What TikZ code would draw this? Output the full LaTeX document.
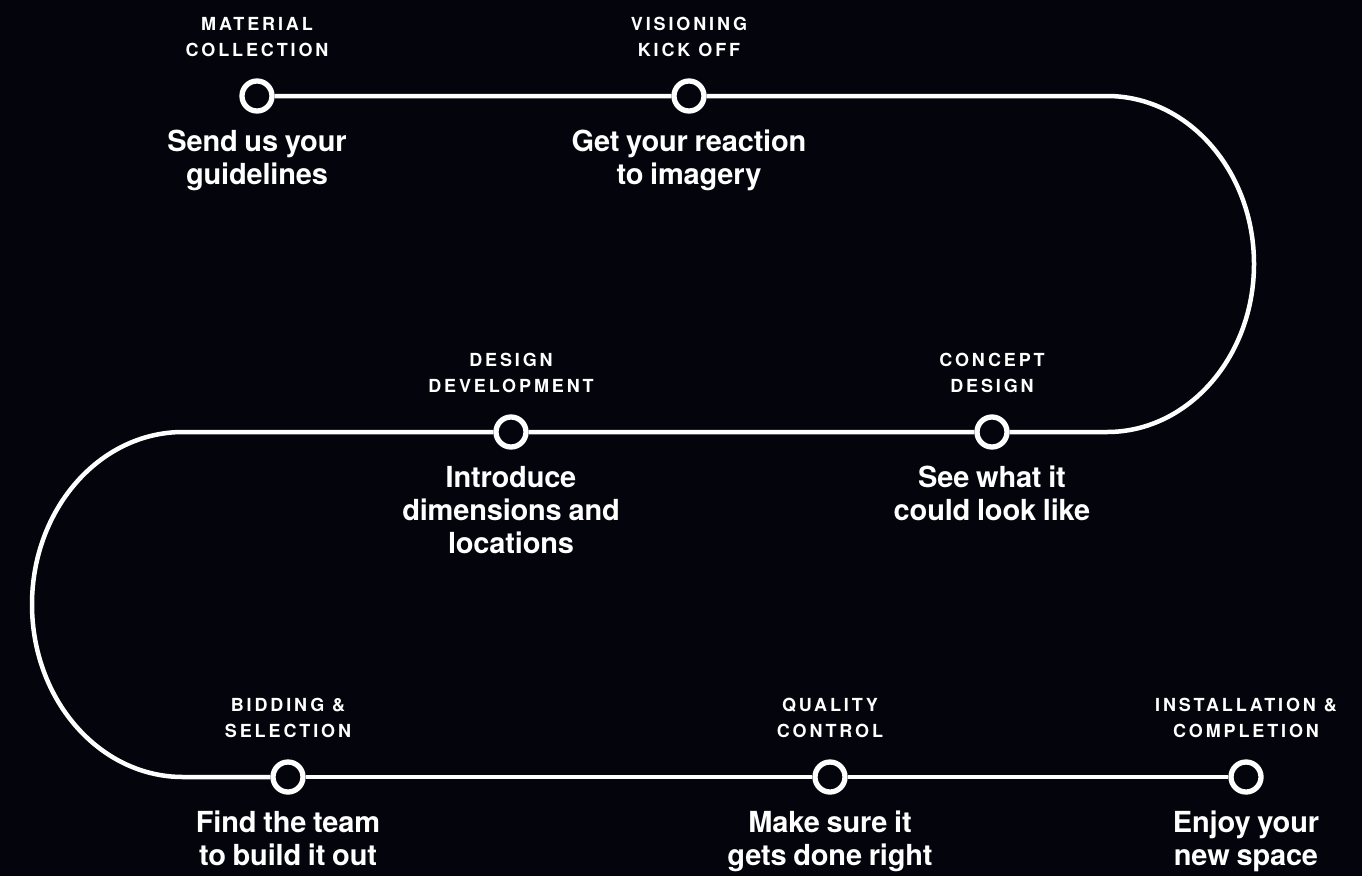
\documentclass[tikz,border=0pt]{standalone}
\usepackage{fontspec}
\setmainfont{TeX Gyre Heros}
\newfontfamily\phasefont[LetterSpace=16]{TeX Gyre Heros}
\newfontfamily\blurbfont[LetterSpace=-0.6, WordSpace=0.85]{TeX Gyre Heros}
\usetikzlibrary{positioning}
\definecolor{bgcol}{RGB}{4,4,12}

\tikzset{
	milestone/.style={circle, draw=white, line width=5.3pt, fill=bgcol, minimum size=30pt, inner sep=0pt},
	phase/.style={text=white, align=center, inner sep=0pt, font=\phasefont\bfseries\fontsize{18}{26}\selectfont},
	blurb/.style={text=white, align=center, inner sep=0pt, font=\blurbfont\bfseries\fontsize{29}{33}\selectfont},
	track/.style={draw=white, line width=4.5pt}
}

\begin{document}
\begin{tikzpicture}[x=1pt, y=-1pt]
		% Tlo
		\fill[bgcol] (0,0) rectangle (1362,876);
		\useasboundingbox (0,0) rectangle (1362,876);

		% Punkty
		\node[milestone] (M) at (257,96) {};
		\node[milestone] (V) at (689,96) {};
		\node[milestone] (C) at (992,432) {};
		\node[milestone] (D) at (511,432) {};
		\node[milestone] (B) at (288,777) {};
		\node[milestone] (Q) at (830,777) {};
		\node[milestone] (I) at (1246,777) {};

		% Zakrety
		\coordinate (R) at (1107,96);
		\coordinate (L) at (183,432);

		% Trasa
		\draw[track] (M) -- (V) -- (R)
		arc[start angle=90, end angle=-90, x radius=147pt, y radius=168pt] -- (C);
		\draw[track] (C) -- (D) -- (L)
		arc[start angle=90, end angle=270, x radius=151pt, y radius=172.5pt] -- (B);
		\draw[track] (B) -- (Q) -- (I);

		% Etapy
		\node[phase, above=39pt of M.center] (Mt) {MATERIAL\\COLLECTION};
		\node[phase, above=39pt of V.center] (Vt) {VISIONING\\KICK OFF};
		\node[phase, above=39pt of C.center] (Ct) {CONCEPT\\DESIGN};
		\node[phase, above=39pt of D.center] (Dt) {DESIGN\\DEVELOPMENT};
		\node[phase, above=39pt of B.center] (Bt) {BIDDING \&\\SELECTION};
		\node[phase, above=39pt of Q.center] (Qt) {QUALITY\\CONTROL};
		\node[phase, above=39pt of I.center] (It) {INSTALLATION \&\\COMPLETION};

		% Opisy
		\node[blurb, below=34pt of M.center] (Md) {Send us your\\guidelines};
		\node[blurb, below=34pt of V.center] (Vd) {Get your reaction\\to imagery};
		\node[blurb, below=34pt of C.center] (Cd) {See what it\\could look like};
		\node[blurb, below=34pt of D.center] (Dd) {Introduce\\dimensions and\\locations};
		\node[blurb, below=34pt of B.center] (Bd) {Find the team\\to build it out};
		\node[blurb, below=34pt of Q.center] (Qd) {Make sure it\\gets done right};
		\node[blurb, below=34pt of I.center] (Id) {Enjoy your\\new space};

	\end{tikzpicture}
\end{document}
